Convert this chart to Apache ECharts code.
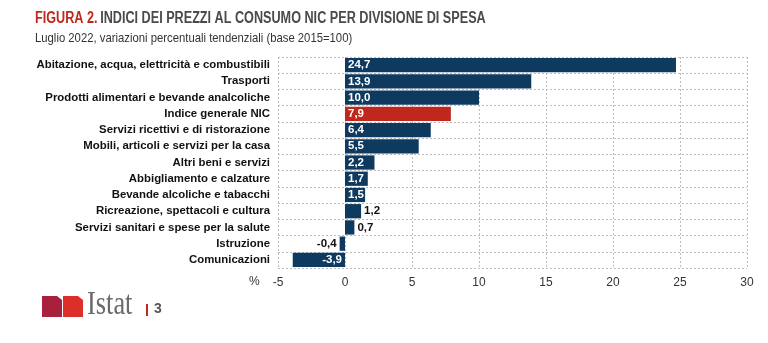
<!DOCTYPE html>
<html>
<head>
<meta charset="utf-8">
<script src="https://cdn.jsdelivr.net/npm/echarts@6/dist/echarts.min.js"></script>
<style>
  html, body { margin: 0; padding: 0; background: #fff; }
  #chart { width: 768px; height: 343px; }
</style>
</head>
<body>
<div id="chart"></div>
<script>
// Divisioni di spesa, luglio 2022 (variazioni % tendenziali)
const categories = [
  'Abitazione, acqua, elettricità e combustibili',
  'Trasporti',
  'Prodotti alimentari e bevande analcoliche',
  'Indice generale NIC',
  'Servizi ricettivi e di ristorazione',
  'Mobili, articoli e servizi per la casa',
  'Altri beni e servizi',
  'Abbigliamento e calzature',
  'Bevande alcoliche e tabacchi',
  'Ricreazione, spettacoli e cultura',
  'Servizi sanitari e spese per la salute',
  'Istruzione',
  'Comunicazioni'
];
const values = [24.7, 13.9, 10.0, 7.9, 6.4, 5.5, 2.2, 1.7, 1.5, 1.2, 0.7, -0.4, -3.9];
const highlight = 'Indice generale NIC';
const xTicks = [-5, 0, 5, 10, 15, 20, 25, 30];

const NAVY = '#0f3a5f';
const RED = '#c1281d';
const FONT = '"Liberation Sans", Arial, sans-serif';

const fmt = v => v.toFixed(1).replace('.', ',');

const barData = values.map((v, i) => {
  let pos, color;
  if (v >= 1.5) { pos = 'insideLeft'; color = '#fff'; }
  else if (v >= 0) { pos = 'right'; color = '#111'; }
  else if (v > -1) { pos = 'left'; color = '#111'; }
  else { pos = 'insideRight'; color = '#fff'; }
  return {
    value: v,
    itemStyle: { color: categories[i] === highlight ? RED : NAVY },
    label: { position: pos, color: color, distance: 3 }
  };
});

const chart = echarts.init(document.getElementById('chart'), null, { renderer: 'canvas' });

chart.setOption({
  animation: false,
  backgroundColor: '#fff',
  grid: { left: 278, right: 21, top: 57, bottom: 75, containLabel: false },
  xAxis: {
    type: 'value',
    min: xTicks[0],
    max: xTicks[xTicks.length - 1],
    interval: 5,
    axisLine: { show: false },
    axisTick: { show: false },
    axisLabel: { color: '#333', fontFamily: FONT, fontSize: 12, margin: 9 },
    splitLine: { show: true, lineStyle: { color: '#bdbdbd', type: [2, 2], width: 1 } }
  },
  yAxis: {
    type: 'category',
    data: categories,
    inverse: true,
    axisLine: { show: false },
    axisTick: { show: false },
    axisLabel: { interval: 0, color: '#111', fontFamily: FONT, fontSize: 11.4, fontWeight: 'bold', margin: 8 },
    splitLine: { show: true, interval: 0, lineStyle: { color: '#bdbdbd', type: [2, 2], width: 1 } }
  },
  series: [{
    type: 'bar',
    data: barData,
    barCategoryGap: '12%',
    label: {
      show: true,
      fontFamily: FONT,
      fontSize: 11.5,
      fontWeight: 'bold',
      formatter: p => fmt(p.value)
    }
  }],
  graphic: [
    {
      type: 'text', x: 35, y: 11, scaleX: 0.79,
      style: {
        text: '{r|FIGURA 2.} {g|INDICI DEI PREZZI AL CONSUMO NIC PER DIVISIONE DI SPESA}',
        rich: {
          r: { fill: '#c1281d', fontFamily: FONT, fontSize: 16, fontWeight: 'bold' },
          g: { fill: '#4a4a4a', fontFamily: FONT, fontSize: 16, fontWeight: 'bold' }
        }
      }
    },
    {
      type: 'text', x: 35, y: 32, scaleX: 0.87,
      style: { text: 'Luglio 2022, variazioni percentuali tendenziali (base 2015=100)', fill: '#333', fontFamily: FONT, fontSize: 13 }
    },
    {
      type: 'text', x: 249, y: 276,
      style: { text: '%', fill: '#333', fontFamily: FONT, fontSize: 12 }
    },
    // logo
    {
      type: 'polygon',
      shape: { points: [[42, 296], [57, 296], [62, 300], [62, 317], [42, 317]] },
      style: { fill: '#a91f3c' }
    },
    {
      type: 'polygon',
      shape: { points: [[63, 296], [78, 296], [83, 300], [83, 317], [63, 317]] },
      style: { fill: '#dc2f2a' }
    },
    {
      type: 'text', x: 87, y: 289, scaleX: 0.8,
      style: { text: 'Istat', fill: '#6a6a6a', fontFamily: '"Liberation Serif", "DejaVu Serif", serif', fontSize: 33 }
    },
    {
      type: 'rect', shape: { x: 146, y: 304, width: 2, height: 12 },
      style: { fill: '#c1281d' }
    },
    {
      type: 'text', x: 154, y: 302,
      style: { text: '3', fill: '#555', fontFamily: FONT, fontSize: 14, fontWeight: 'bold' }
    }
  ]
});
</script>
</body>
</html>
